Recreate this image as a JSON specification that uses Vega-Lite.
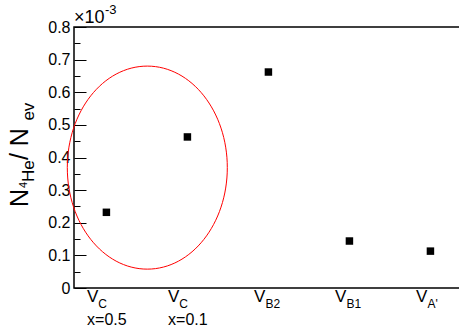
{
  "$schema": "https://vega.github.io/schema/vega-lite/v6.json",
  "autosize": "none",
  "width": 386,
  "height": 261,
  "padding": {"left": 74, "top": 27, "right": 0, "bottom": 40},
  "background": "white",
  "config": {
    "view": {"stroke": "#000000", "strokeWidth": 1.5},
    "font": "Liberation Sans",
    "text": {"font": "Liberation Sans", "color": "#000000"}
  },
  "resolve": {"axis": {"y": "independent"}},
  "datasets": {
    "points": [
      {"label": "V_C x=0.5", "pos": 1, "value": 0.232},
      {"label": "V_C x=0.1", "pos": 2, "value": 0.463},
      {"label": "V_B2", "pos": 3, "value": 0.662},
      {"label": "V_B1", "pos": 4, "value": 0.144},
      {"label": "V_A'", "pos": 5, "value": 0.113}
    ],
    "xlabels": [
      {"pos": 1, "main": "V", "sub": "C", "line2": "x=0.5", "kind": "split"},
      {"pos": 2, "main": "V", "sub": "C", "line2": "x=0.1", "kind": "split"},
      {"pos": 3, "main": "V", "sub": "B2", "line2": "", "kind": "simple"},
      {"pos": 4, "main": "V", "sub": "B1", "line2": "", "kind": "simple"},
      {"pos": 5, "main": "V", "sub": "A'", "line2": "", "kind": "simple"}
    ],
    "annot": [{"name": "annotation"}]
  },
  "layer": [
    {
      "data": {"name": "points"},
      "mark": {"type": "square", "size": 56, "color": "#000000", "opacity": 1},
      "encoding": {
        "x": {"field": "pos", "type": "quantitative", "scale": {"domain": [0.6, 5.365], "nice": false, "zero": false}, "axis": null},
        "y": {"field": "value", "type": "quantitative", "scale": {"domain": [0, 0.8], "nice": false, "zero": false},
          "axis": {
            "orient": "left",
            "values": [0, 0.1, 0.2, 0.3, 0.4, 0.5, 0.6, 0.7, 0.8],
            "format": ".1~f",
            "title": null,
            "grid": false,
            "domain": false,
            "ticks": true,
            "tickSize": -12,
            "tickColor": "#000000",
            "tickWidth": 1,
            "labelPadding": 16,
            "labelFontSize": 16,
            "labelFont": "Liberation Sans",
            "labelColor": "#000000",
            "labelFlush": false,
            "labelOverlap": false,
            "labelBound": false
          }
        }
      }
    },
    {
      "data": {"name": "annot"},
      "mark": {"type": "point", "shape": "M 1 0 C 1 0.7009 0.5523 1.269 0 1.269 C -0.5523 1.269 -1 0.7009 -1 0 C -1 -0.7009 -0.5523 -1.269 0 -1.269 C 0.5523 -1.269 1 -0.7009 1 0 Z", "size": 25600, "filled": false, "color": "#ff0000", "strokeWidth": 1, "opacity": 1},
      "encoding": {
        "x": {"datum": 1.505, "type": "quantitative", "scale": {"domain": [0.6, 5.365], "nice": false, "zero": false}, "axis": null},
        "y": {"datum": 0.369, "type": "quantitative", "scale": {"domain": [0, 0.8], "nice": false, "zero": false},
          "axis": {
            "orient": "left",
            "values": [0.05, 0.15, 0.25, 0.35, 0.45, 0.55, 0.65, 0.75],
            "labels": false,
            "title": null,
            "grid": false,
            "domain": false,
            "ticks": true,
            "tickSize": -6,
            "tickColor": "#000000",
            "tickWidth": 1
          }
        }
      }
    },
    {
      "data": {"name": "xlabels"},
      "transform": [{"filter": "datum.kind === 'split'"}],
      "layer": [
        {"mark": {"type": "text", "align": "left", "baseline": "alphabetic", "dx": -19.5, "dy": 14, "fontSize": 17}, "encoding": {"text": {"field": "main"}}},
        {"mark": {"type": "text", "align": "left", "baseline": "alphabetic", "dx": -8.2, "dy": 19.5, "fontSize": 12}, "encoding": {"text": {"field": "sub"}}},
        {"mark": {"type": "text", "align": "center", "baseline": "alphabetic", "dx": 0.5, "dy": 36.5, "fontSize": 16}, "encoding": {"text": {"field": "line2"}}}
      ],
      "encoding": {
        "x": {"field": "pos", "type": "quantitative", "scale": {"domain": [0.6, 5.365], "nice": false, "zero": false}, "axis": null},
        "y": {"datum": 0, "type": "quantitative", "scale": {"domain": [0, 0.8], "nice": false, "zero": false}, "axis": null}
      }
    },
    {
      "data": {"name": "xlabels"},
      "transform": [{"filter": "datum.kind === 'simple'"}],
      "layer": [
        {"mark": {"type": "text", "align": "right", "baseline": "alphabetic", "dx": -3, "dy": 14, "fontSize": 17}, "encoding": {"text": {"field": "main"}}},
        {"mark": {"type": "text", "align": "left", "baseline": "alphabetic", "dx": -3, "dy": 19.5, "fontSize": 12}, "encoding": {"text": {"field": "sub"}}}
      ],
      "encoding": {
        "x": {"field": "pos", "type": "quantitative", "scale": {"domain": [0.6, 5.365], "nice": false, "zero": false}, "axis": null},
        "y": {"datum": 0, "type": "quantitative", "scale": {"domain": [0, 0.8], "nice": false, "zero": false}, "axis": null}
      }
    },
    {
      "data": {"name": "annot"},
      "layer": [
        {"mark": {"type": "text", "angle": 270, "align": "left", "baseline": "alphabetic", "dx": 0, "dy": 0, "fontSize": 25, "text": "N"}, "encoding": {}},
        {"mark": {"type": "text", "angle": 270, "align": "left", "baseline": "alphabetic", "dx": 19, "dy": -1, "fontSize": 11, "text": "4"}, "encoding": {}},
        {"mark": {"type": "text", "angle": 270, "align": "left", "baseline": "alphabetic", "dx": 25, "dy": 6, "fontSize": 17, "text": "He"}, "encoding": {}},
        {"mark": {"type": "text", "angle": 270, "align": "left", "baseline": "alphabetic", "dx": 47, "dy": 0, "fontSize": 25, "text": " / N"}, "encoding": {}},
        {"mark": {"type": "text", "angle": 270, "align": "left", "baseline": "alphabetic", "dx": 86.5, "dy": 6, "fontSize": 17, "text": "ev"}, "encoding": {}}
      ],
      "encoding": {
        "x": {"datum": 0.032, "type": "quantitative", "scale": {"domain": [0.6, 5.365], "nice": false, "zero": false}, "axis": null},
        "y": {"datum": 0.248, "type": "quantitative", "scale": {"domain": [0, 0.8], "nice": false, "zero": false}, "axis": null}
      }
    },
    {
      "data": {"name": "annot"},
      "layer": [
        {"mark": {"type": "text", "align": "left", "baseline": "alphabetic", "dx": 0, "dy": -4, "fontSize": 18, "text": "×10"}, "encoding": {}},
        {"mark": {"type": "text", "align": "left", "baseline": "alphabetic", "dx": 31, "dy": -13, "fontSize": 13, "text": "-3"}, "encoding": {}}
      ],
      "encoding": {
        "x": {"datum": 0.6, "type": "quantitative", "scale": {"domain": [0.6, 5.365], "nice": false, "zero": false}, "axis": null},
        "y": {"datum": 0.8, "type": "quantitative", "scale": {"domain": [0, 0.8], "nice": false, "zero": false}, "axis": null}
      }
    }
  ]
}
